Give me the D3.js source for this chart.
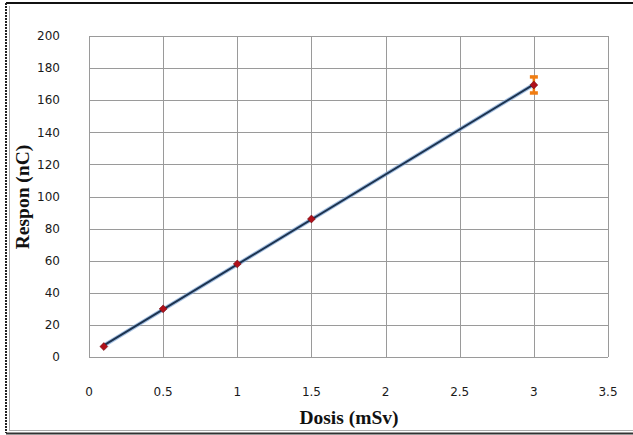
<!DOCTYPE html>
<html>
<head>
<meta charset="utf-8">
<script src="https://cdn.jsdelivr.net/npm/d3@7"></script>
<style>
  body { margin: 0; background: #fff; }
  svg text { font-family: "DejaVu Sans", sans-serif; }
</style>
</head>
<body>
<div id="vis"></div>
<script>
// Data
var dosis = [0.1, 0.5, 1, 1.5, 3];
var respon = [6.5, 30, 58, 86, 169.5];
var errors = [0, 0, 0, 0, 5];
var xTicks = [0, 0.5, 1, 1.5, 2, 2.5, 3, 3.5];
var yTicks = [0, 20, 40, 60, 80, 100, 120, 140, 160, 180, 200];

var W = 633, H = 435;
var margin = { top: 36, left: 89, right: 25, bottom: 78 };

var x = d3.scaleLinear().domain([0, 3.5]).range([margin.left, W - margin.right]);
var y = d3.scaleLinear().domain([0, 200]).range([H - margin.bottom, margin.top]);

var svg = d3.select('#vis').append('svg')
    .attr('width', W)
    .attr('height', H);

// outer frame
svg.append('line').attr('x1', 6).attr('y1', 3).attr('x2', W).attr('y2', 3)
    .attr('stroke', '#111').attr('stroke-width', 2);
svg.append('line').attr('x1', 6).attr('y1', 3).attr('x2', 6).attr('y2', 433)
    .attr('stroke', '#222').attr('stroke-width', 2).attr('stroke-dasharray', '2,1');
svg.append('line').attr('x1', 9.5).attr('y1', 6).attr('x2', 9.5).attr('y2', 430)
    .attr('stroke', '#aaa').attr('stroke-width', 1);
svg.append('line').attr('x1', 9).attr('y1', 430.5).attr('x2', W).attr('y2', 430.5)
    .attr('stroke', '#aaa').attr('stroke-width', 1);
svg.append('line').attr('x1', 6).attr('y1', 433.5).attr('x2', W).attr('y2', 433.5)
    .attr('stroke', '#333').attr('stroke-width', 2);

// gridlines
svg.append('g').selectAll('line').data(xTicks).enter().append('line')
    .attr('x1', function(d) { return Math.round(x(d)) + 0.5; })
    .attr('x2', function(d) { return Math.round(x(d)) + 0.5; })
    .attr('y1', y(0)).attr('y2', y(200))
    .attr('stroke', '#9a9a9a').attr('stroke-width', 1);
svg.append('g').selectAll('line').data(yTicks).enter().append('line')
    .attr('y1', function(d) { return Math.round(y(d)) + 0.5; })
    .attr('y2', function(d) { return Math.round(y(d)) + 0.5; })
    .attr('x1', x(0)).attr('x2', x(3.5))
    .attr('stroke', '#9a9a9a').attr('stroke-width', 1);

// tick labels
svg.append('g').selectAll('text').data(yTicks).enter().append('text')
    .attr('x', 60)
    .attr('y', function(d) { return y(d); })
    .attr('dy', '0.35em')
    .attr('text-anchor', 'end')
    .attr('font-size', '12px')
    .attr('fill', '#1a1a1a')
    .text(function(d) { return d; });
svg.append('g').selectAll('text').data(xTicks).enter().append('text')
    .attr('x', function(d) { return x(d); })
    .attr('y', 392)
    .attr('dy', '0.35em')
    .attr('text-anchor', 'middle')
    .attr('font-size', '12px')
    .attr('fill', '#1a1a1a')
    .text(function(d) { return d; });

// axis titles
svg.append('text')
    .attr('x', 349).attr('y', 424)
    .attr('text-anchor', 'middle')
    .style('font-family', '"Liberation Serif", "DejaVu Serif", serif')
    .attr('font-weight', 'bold')
    .attr('font-size', '19.5px')
    .attr('fill', '#111')
    .text('Dosis (mSv)');
svg.append('text')
    .attr('transform', 'translate(29,' + 197 + ') rotate(-90)')
    .attr('text-anchor', 'middle')
    .style('font-family', '"Liberation Serif", "DejaVu Serif", serif')
    .attr('font-weight', 'bold')
    .attr('font-size', '19.5px')
    .attr('fill', '#111')
    .text('Respon (nC)');

// least squares fit through the points
var n = dosis.length;
var mx = d3.mean(dosis), my = d3.mean(respon);
var sxy = 0, sxx = 0;
for (var i = 0; i < n; i++) {
    sxy += (dosis[i] - mx) * (respon[i] - my);
    sxx += (dosis[i] - mx) * (dosis[i] - mx);
}
var slope = sxy / sxx, icpt = my - slope * mx;
var x0 = d3.min(dosis), x1 = d3.max(dosis);

svg.append('line')
    .attr('x1', x(x0)).attr('y1', y(icpt + slope * x0))
    .attr('x2', x(x1)).attr('y2', y(icpt + slope * x1))
    .attr('stroke', '#7fa6d6').attr('stroke-width', 4).attr('opacity', 0.7);
svg.append('line')
    .attr('x1', x(x0)).attr('y1', y(icpt + slope * x0))
    .attr('x2', x(x1)).attr('y2', y(icpt + slope * x1))
    .attr('stroke', '#1c3350').attr('stroke-width', 2);

// error bars
var eb = svg.append('g');
for (var i = 0; i < n; i++) {
    if (!errors[i]) continue;
    var cx = x(dosis[i]);
    eb.append('line')
        .attr('x1', cx).attr('x2', cx)
        .attr('y1', y(respon[i] + errors[i])).attr('y2', y(respon[i] - errors[i]))
        .attr('stroke', '#f07d12').attr('stroke-width', 2.5);
    [respon[i] + errors[i], respon[i] - errors[i]].forEach(function(v) {
        eb.append('line')
            .attr('x1', cx - 4).attr('x2', cx + 4)
            .attr('y1', y(v)).attr('y2', y(v))
            .attr('stroke', '#f07d12').attr('stroke-width', 3.5);
    });
}

// markers
svg.append('g').selectAll('rect').data(dosis).enter().append('rect')
    .attr('x', -2.8).attr('y', -2.8).attr('width', 5.6).attr('height', 5.6)
    .attr('transform', function(d, i) { return 'translate(' + x(d) + ',' + y(respon[i]) + ') rotate(45)'; })
    .attr('fill', '#b0101a')
    .attr('stroke', '#6a0a10')
    .attr('stroke-width', 0.5);
</script>
</body>
</html>
